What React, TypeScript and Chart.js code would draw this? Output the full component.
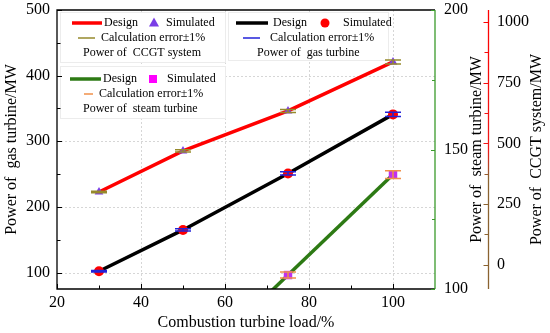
import React, { useEffect, useRef } from "react";
import { Chart, registerables } from "chart.js";
Chart.register(...registerables);

// ---- data ----
const loads = [30, 50, 75, 100];
const ccgtDesign = [300, 469, 634, 836];
const ccgtSimulated = [300, 469, 634, 836];
const gasDesign = [102, 165, 251, 341];
const gasSimulated = [102, 165, 251, 341];
const steamDesign: (number | null)[] = [null, 69, 105, 141];
const steamSimulated: (number | null)[] = [null, null, 105, 141];
const errorPct = 1;

const xTicks = [20, 40, 60, 80, 100];
const xMinorTicks = [30, 50, 70, 90];
const gasTicks = [100, 200, 300, 400, 500];
const gasMinorTicks = [150, 250, 350, 450];
const steamTicks = [100, 150, 200];
const steamMinorTicks = [125, 175];
const ccgtTicks = [0, 250, 500, 750, 1000];
const ccgtMinorTicks = [125, 375, 625, 875];

const xTitle = "Combustion turbine load/%";
const gasTitle = "Power of  gas turbine/MW";
const steamTitle = "Power of  steam turbine/MW";
const ccgtTitle = "Power of  CCGT system/MW";

const FONT = "'Liberation Serif', 'Times New Roman', serif";
const RED = "#ff0000";
const PURPLE = "#7a3ee6";
const GREEN = "#2d7a14";
const MAGENTA = "#c030f0";
const OLIVE = "#968a2c";
const BLUE = "#2222d8";
const ORANGE = "#f0904a";
const BROWN = "#8a6230";

const pts = (ys: (number | null)[]) => loads.map((x, i) => ({ x, y: ys[i] }));

const decor = {
  id: "decor",
  beforeDatasetsDraw(chart: any) {
    const { ctx, chartArea: a, scales } = chart;
    const x = scales.x, y = scales.y;
    ctx.save();
    // grid
    ctx.strokeStyle = "#d6d6d6";
    ctx.lineWidth = 1;
    ctx.setLineDash([2, 2]);
    xTicks.forEach((v) => {
      const px = Math.round(x.getPixelForValue(v)) + 0.5;
      if (px <= a.left + 2 || px >= a.right - 2) return;
      ctx.beginPath(); ctx.moveTo(px, a.top); ctx.lineTo(px, a.bottom); ctx.stroke();
    });
    gasTicks.forEach((v) => {
      const py = Math.round(y.getPixelForValue(v)) + 0.5;
      if (py <= a.top + 2 || py >= a.bottom - 2) return;
      ctx.beginPath(); ctx.moveTo(a.left, py); ctx.lineTo(a.right, py); ctx.stroke();
    });
    ctx.setLineDash([]);
    // legend boxes
    const box = (bx: number, by: number, bw: number, bh: number) => {
      ctx.fillStyle = "#ffffff";
      ctx.fillRect(bx, by, bw, bh);
      ctx.strokeStyle = "#ececec";
      ctx.lineWidth = 1;
      ctx.strokeRect(bx + 0.5, by + 0.5, bw, bh);
    };
    box(a.left + 3, a.top + 2, 165, 50);
    box(a.left + 3, a.top + 56, 165, 52);
    box(a.left + 171, a.top + 2, 160, 48);

    ctx.font = `12px ${FONT}`;
    ctx.textBaseline = "middle";
    ctx.textAlign = "left";
    const line = (x1: number, x2: number, yy: number, c: string, w: number) => {
      ctx.strokeStyle = c; ctx.lineWidth = w;
      ctx.beginPath(); ctx.moveTo(x1, yy); ctx.lineTo(x2, yy); ctx.stroke();
    };
    const text = (t: string, tx: number, ty: number) => { ctx.fillStyle = "#000"; ctx.fillText(t, tx, ty); };
    // box 1: CCGT
    line(72, 102, 23, RED, 3.5);
    text("Design", 104, 23);
    ctx.fillStyle = PURPLE;
    ctx.beginPath(); ctx.moveTo(154, 17.5); ctx.lineTo(159, 26.5); ctx.lineTo(149, 26.5); ctx.closePath(); ctx.fill();
    text("Simulated", 166, 23);
    line(78, 95, 38, OLIVE, 1.5);
    text("Calculation error\u00b11%", 101, 38);
    text("Power of  CCGT system", 83, 53);
    // box 2: gas
    line(236, 268, 23, "#000", 3.5);
    text("Design", 273, 23);
    ctx.fillStyle = RED;
    ctx.beginPath(); ctx.arc(325, 23, 4.5, 0, Math.PI * 2); ctx.fill();
    text("Simulated", 343, 23);
    line(243, 260, 38, BLUE, 1.5);
    text("Calculation error\u00b11%", 270, 38);
    text("Power of  gas turbine", 257, 53);
    // box 3: steam
    line(70, 101, 79, GREEN, 3.5);
    text("Design", 103, 79);
    ctx.fillStyle = "#ff00ff";
    ctx.fillRect(149, 75, 8, 8);
    text("Simulated", 167, 79);
    line(84, 93, 94, ORANGE, 1.5);
    text("Calculation error\u00b11%", 99, 94);
    text("Power of  steam turbine", 83, 109);
    ctx.restore();
  },
  afterDatasetsDraw(chart: any) {
    const { ctx, scales, chartArea: a } = chart;
    ctx.save();
    ctx.beginPath(); ctx.rect(a.left, a.top, a.right - a.left, a.bottom - a.top); ctx.clip();
    const bars = (vals: (number | null)[], sc: any, col: string) => {
      ctx.strokeStyle = col; ctx.lineWidth = 1.5;
      vals.forEach((v, i) => {
        if (v == null) return;
        const px = scales.x.getPixelForValue(loads[i]);
        const hi = sc.getPixelForValue(v * (1 + errorPct / 100));
        const lo = sc.getPixelForValue(v * (1 - errorPct / 100));
        ctx.beginPath();
        ctx.moveTo(px - 8, hi); ctx.lineTo(px + 8, hi);
        ctx.moveTo(px - 8, lo); ctx.lineTo(px + 8, lo);
        ctx.moveTo(px, hi); ctx.lineTo(px, lo);
        ctx.stroke();
      });
    };
    bars(ccgtSimulated, scales.y3, OLIVE);
    bars(gasSimulated, scales.y, BLUE);
    bars(steamSimulated, scales.y2, ORANGE);
    ctx.restore();
  },
  afterDraw(chart: any) {
    const { ctx, chartArea: a, scales } = chart;
    const { x, y, y2, y3 } = scales;
    ctx.save();
    // frame
    ctx.lineWidth = 1.3;
    ctx.strokeStyle = "#000";
    ctx.beginPath();
    ctx.moveTo(a.right, a.top); ctx.lineTo(a.left, a.top); ctx.lineTo(a.left, a.bottom); ctx.lineTo(a.right, a.bottom);
    ctx.stroke();
    ctx.strokeStyle = "#3a9a2a";
    ctx.beginPath(); ctx.moveTo(a.right, a.top); ctx.lineTo(a.right, a.bottom); ctx.stroke();
    // x ticks (inward)
    ctx.strokeStyle = "#000"; ctx.lineWidth = 1;
    const vt = (v: number, len: number) => {
      const px = Math.round(x.getPixelForValue(v)) + 0.5;
      ctx.beginPath(); ctx.moveTo(px, a.bottom); ctx.lineTo(px, a.bottom - len); ctx.stroke();
    };
    xTicks.forEach((v) => vt(v, 5));
    xMinorTicks.forEach((v) => vt(v, 3.5));
    const ht = (sc: any, v: number, x0: number, len: number) => {
      const py = Math.round(sc.getPixelForValue(v)) + 0.5;
      ctx.beginPath(); ctx.moveTo(x0, py); ctx.lineTo(x0 + len, py); ctx.stroke();
    };
    gasTicks.forEach((v) => ht(y, v, a.left, 5));
    gasMinorTicks.forEach((v) => ht(y, v, a.left, 3.5));
    ctx.strokeStyle = "#3a9a2a";
    steamTicks.forEach((v) => ht(y2, v, a.right, -4));
    steamMinorTicks.forEach((v) => ht(y2, v, a.right, -3));
    // CCGT axis
    const ax = y3.left + 0.5;
    const g = ctx.createLinearGradient(0, a.top, 0, a.bottom);
    g.addColorStop(0, RED);
    g.addColorStop(0.5, "#f01818");
    g.addColorStop(0.6, BROWN);
    g.addColorStop(1, BROWN);
    ctx.strokeStyle = g;
    ctx.lineWidth = 1.3;
    ctx.beginPath(); ctx.moveTo(ax, a.top); ctx.lineTo(ax, a.bottom); ctx.stroke();
    ctx.lineWidth = 1;
    ccgtTicks.forEach((v) => ht(y3, v, ax, -5));
    ccgtMinorTicks.forEach((v) => ht(y3, v, ax, -4));
    // titles
    ctx.fillStyle = "#000";
    ctx.font = `16px ${FONT}`;
    ctx.textAlign = "center";
    ctx.textBaseline = "middle";
    ctx.fillText(xTitle, (a.left + a.right) / 2, a.bottom + 34);
    const cy = (a.top + a.bottom) / 2;
    const rot = (t: string, tx: number) => {
      ctx.save(); ctx.translate(tx, cy); ctx.rotate(-Math.PI / 2); ctx.fillText(t, 0, 0); ctx.restore();
    };
    rot(gasTitle, y.left + 12);
    rot(steamTitle, y2.left + 42);
    rot(ccgtTitle, y3.left + 49);
    ctx.restore();
  },
};

const tickFont = { family: FONT, size: 16 };
const plain = (v: any) => String(v);
const fitV = (w: number) => (s: any) => { s.width = w; s.paddingTop = 0; s.paddingBottom = 0; };

export default function App() {
  const ref = useRef<HTMLCanvasElement>(null);
  useEffect(() => {
    if (!ref.current) return;
    const chart = new Chart(ref.current, {
      type: "line",
      data: {
        datasets: [
          { label: "CCGT design", data: pts(ccgtDesign), yAxisID: "y3", borderColor: RED, borderWidth: 3.5, pointRadius: 0, showLine: true, order: 3 },
          { label: "Gas design", data: pts(gasDesign), yAxisID: "y", borderColor: "#000", borderWidth: 3.5, pointRadius: 0, showLine: true, order: 3 },
          { label: "Steam design", data: pts(steamDesign), yAxisID: "y2", borderColor: GREEN, borderWidth: 3.5, pointRadius: 0, showLine: true, order: 3 },
          { label: "CCGT simulated", data: pts(ccgtSimulated), yAxisID: "y3", showLine: false, pointStyle: "triangle", pointRadius: 5, backgroundColor: PURPLE, borderColor: PURPLE, borderWidth: 0, order: 1 },
          { label: "Gas simulated", data: pts(gasSimulated), yAxisID: "y", showLine: false, pointStyle: "circle", pointRadius: 5, backgroundColor: RED, borderColor: RED, borderWidth: 0, order: 1 },
          { label: "Steam simulated", data: pts(steamSimulated), yAxisID: "y2", showLine: false, pointStyle: "rect", pointRadius: 6, backgroundColor: MAGENTA, borderColor: MAGENTA, borderWidth: 0, order: 1 },
        ],
      },
      options: {
        animation: false,
        responsive: false,
        layout: { padding: { top: 10, left: 0, right: 0, bottom: 0 } },
        plugins: { legend: { display: false }, tooltip: { enabled: false } },
        scales: {
          x: {
            type: "linear", position: "bottom", min: 20, max: 110,
            afterBuildTicks: (s: any) => { s.ticks = xTicks.map((v) => ({ value: v })); },
            afterFit: (s: any) => { s.height = 44; s.paddingLeft = 0; s.paddingRight = 0; },
            grid: { display: false, drawTicks: false }, border: { display: false },
            ticks: { font: tickFont, color: "#000", padding: 4, autoSkip: false, maxRotation: 0, callback: plain },
          },
          y: {
            type: "linear", position: "left", min: 75, max: 500,
            afterBuildTicks: (s: any) => { s.ticks = gasTicks.map((v) => ({ value: v })); },
            afterFit: fitV(57),
            grid: { display: false, drawTicks: false }, border: { display: false },
            ticks: { font: tickFont, color: "#000", padding: 7, autoSkip: false, callback: plain },
          },
          y2: {
            type: "linear", position: "right", min: 100, max: 200,
            afterBuildTicks: (s: any) => { s.ticks = steamTicks.map((v) => ({ value: v })); },
            afterFit: fitV(53),
            grid: { display: false, drawTicks: false }, border: { display: false },
            ticks: { font: tickFont, color: "#000", padding: 9, autoSkip: false, callback: plain },
          },
          y3: {
            type: "linear", position: "right", min: -100, max: 1050,
            afterBuildTicks: (s: any) => { s.ticks = ccgtTicks.map((v) => ({ value: v })); },
            afterFit: fitV(62),
            grid: { display: false, drawTicks: false }, border: { display: false },
            ticks: { font: tickFont, color: "#000", padding: 9, autoSkip: false, callback: plain },
          },
        },
      },
      plugins: [decor],
    } as any);
    return () => chart.destroy();
  }, []);
  return (
    <div style={{ position: "absolute", left: 0, top: 0, width: 550, height: 333, background: "#fff" }}>
      <canvas ref={ref} width={550} height={333} style={{ display: "block" }} />
    </div>
  );
}
